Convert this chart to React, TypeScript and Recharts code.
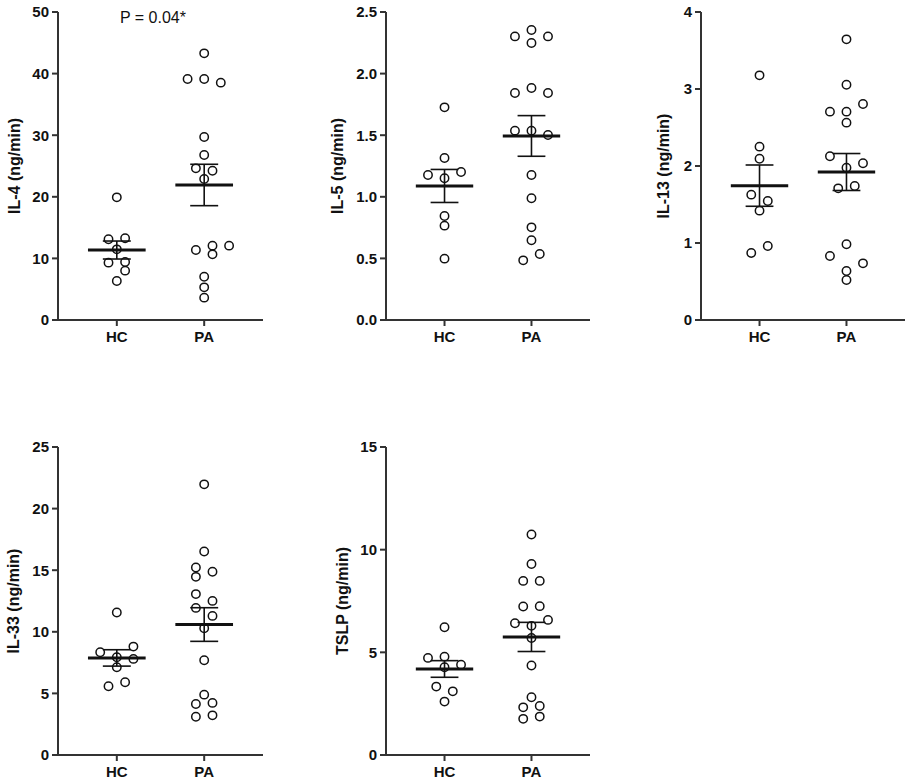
import React from 'react';
import { ScatterChart, Scatter, XAxis, YAxis, ReferenceLine } from 'recharts';

const FONT = "'Liberation Sans', Arial, Helvetica, sans-serif";
const INK = '#111';
const AXIS = '#333';

const groups = ['HC', 'PA'];

// IL-4
const il4HC = [19.91, 13.1, 13.26, 11.47, 9.31, 9.42, 8.01, 6.33];
const il4HCCol = [0, -1, 1, 0, -1, 1, 1, 0];
const il4PA = [43.29, 39.12, 39.12, 38.53, 29.71, 26.79, 24.62, 24.24, 22.89, 11.36, 12.07, 12.07, 10.66, 7.03, 5.3, 3.63];
const il4PACol = [0, -2, 0, 2, 0, 0, -1, 1, 0, -1, 1, 3, 1, 0, 0, 0];
const il4Mean = [11.36, 21.92];
const il4Sem = [1.46, 3.36];
const il4Ticks = [0, 10, 20, 30, 40, 50];

// IL-5
const il5HC = [1.726, 1.315, 1.177, 1.201, 1.15, 0.844, 0.766, 0.498];
const il5HCCol = [0, 0, -2, 2, 0, 0, 0, 0];
const il5PA = [2.354, 2.302, 2.302, 2.248, 1.883, 1.843, 1.843, 1.537, 1.537, 1.502, 1.177, 0.988, 0.752, 0.647, 0.536, 0.484];
const il5PACol = [0, -2, 2, 0, 0, -2, 2, -2, 0, 2, 0, 0, 0, 0, 1, -1];
const il5Mean = [1.088, 1.494];
const il5Sem = [0.134, 0.165];
const il5Ticks = [0, 0.5, 1, 1.5, 2, 2.5];

// IL-13
const il13HC = [3.177, 2.251, 2.095, 1.628, 1.545, 1.42, 0.961, 0.87];
const il13HCCol = [0, 0, 0, -1, 1, 0, 1, -1];
const il13PA = [3.645, 3.056, 2.805, 2.706, 2.706, 2.563, 2.126, 2.035, 1.978, 1.74, 1.71, 0.983, 0.831, 0.736, 0.636, 0.519];
const il13PACol = [0, 0, 2, -2, 0, 0, -2, 2, 0, 1, -1, 0, -2, 2, 0, 0];
const il13Mean = [1.745, 1.922];
const il13Sem = [0.268, 0.24];
const il13Ticks = [0, 1, 2, 3, 4];

// IL-33
const il33HC = [11.57, 8.8, 8.34, 7.94, 7.8, 7.12, 5.9, 5.58];
const il33HCCol = [0, 2, -2, 0, 2, 0, 1, -1];
const il33PA = [21.97, 16.52, 15.22, 14.87, 14.46, 13.06, 12.51, 11.94, 11.29, 10.29, 7.69, 4.9, 4.14, 4.23, 3.22, 3.11];
const il33PACol = [0, 0, -1, 1, -1, -1, 1, -1, 1, 0, 0, 0, -1, 1, 1, -1];
const il33Mean = [7.88, 10.59];
const il33Sem = [0.665, 1.365];
const il33Ticks = [0, 5, 10, 15, 20, 25];

// TSLP
const tslpHC = [6.22, 4.73, 4.79, 4.4, 4.27, 3.33, 3.1, 2.6];
const tslpHCCol = [0, -2, 0, 2, 0, -1, 1, 0];
const tslpPA = [10.74, 9.3, 8.48, 8.48, 7.23, 7.25, 6.42, 6.58, 6.29, 5.7, 4.36, 2.81, 2.32, 2.39, 1.76, 1.87];
const tslpPACol = [0, 0, -1, 1, -1, 1, -2, 2, 0, 0, 0, 0, -1, 1, -1, 1];
const tslpMean = [4.19, 5.75];
const tslpSem = [0.405, 0.71];
const tslpTicks = [0, 5, 10, 15];

const SLOT = 0.095;
const MEAN_HALF = 0.33;
const CAP_HALF = 0.16;
const X_DOMAIN: [number, number] = [0.327, 2.673];

const Dot = (props: any) => {
  if (props.cx == null || props.cy == null) return null;
  return <circle cx={props.cx} cy={props.cy} r={4.2} fill="none" stroke={INK} strokeWidth={1.5} />;
};

const makeYLabel = (text: string, dist: number) => (props: any) => {
  const vb = props.viewBox || { x: 0, y: 0, width: 0, height: 0 };
  const cx = vb.x + vb.width - dist;
  const cy = vb.y + vb.height / 2;
  return (
    <text
      x={cx}
      y={cy}
      transform={`rotate(-90, ${cx}, ${cy})`}
      textAnchor="middle"
      dominantBaseline="central"
      fontSize={16}
      fontWeight="bold"
      fontFamily={FONT}
      fill={INK}
    >
      {text}
    </text>
  );
};

type PanelProps = {
  left: number;
  top: number;
  plotW: number;
  hc: number[];
  hcCol: number[];
  pa: number[];
  paCol: number[];
  mean: number[];
  sem: number[];
  ticks: number[];
  decimals: number;
  label: string;
  labelDist: number;
  note?: string;
};

const Panel = (p: PanelProps) => {
  const AXW = 58;
  const RIGHT = 5;
  const width = AXW + p.plotW + RIGHT;
  const height = 348;
  const hcData = p.hc.map((v, i) => ({ x: 1 + p.hcCol[i] * SLOT, y: v }));
  const paData = p.pa.map((v, i) => ({ x: 2 + p.paCol[i] * SLOT, y: v }));
  const yMax = p.ticks[p.ticks.length - 1];
  const lines: React.ReactNode[] = [];
  [1, 2].forEach((g, gi) => {
    const m = p.mean[gi];
    const s = p.sem[gi];
    lines.push(
      <ReferenceLine key={`v${g}`} segment={[{ x: g, y: m - s }, { x: g, y: m + s }]} stroke={INK} strokeWidth={1.6} />,
      <ReferenceLine key={`u${g}`} segment={[{ x: g - CAP_HALF, y: m + s }, { x: g + CAP_HALF, y: m + s }]} stroke={INK} strokeWidth={1.6} />,
      <ReferenceLine key={`l${g}`} segment={[{ x: g - CAP_HALF, y: m - s }, { x: g + CAP_HALF, y: m - s }]} stroke={INK} strokeWidth={1.6} />,
      <ReferenceLine key={`m${g}`} segment={[{ x: g - MEAN_HALF, y: m }, { x: g + MEAN_HALF, y: m }]} stroke={INK} strokeWidth={3} />
    );
  });
  return (
    <div style={{ position: 'absolute', left: p.left, top: p.top, width, height }}>
      <ScatterChart width={width} height={height} margin={{ top: 12, right: RIGHT, bottom: 0, left: 0 }}>
        <XAxis
          type="number"
          dataKey="x"
          domain={X_DOMAIN}
          ticks={[1, 2]}
          allowDataOverflow
          height={28}
          tickFormatter={(v: number) => groups[Math.round(v) - 1]}
          axisLine={{ stroke: AXIS, strokeWidth: 2 }}
          tickLine={{ stroke: AXIS, strokeWidth: 2 }}
          tickSize={6}
          tickMargin={5}
          tick={{ fontSize: 15, fontWeight: 'bold', fill: INK, fontFamily: FONT }}
        />
        <YAxis
          type="number"
          dataKey="y"
          domain={[0, yMax]}
          ticks={p.ticks}
          allowDataOverflow
          width={AXW}
          tickFormatter={(v: number) => v.toFixed(p.decimals)}
          axisLine={{ stroke: AXIS, strokeWidth: 2 }}
          tickLine={{ stroke: AXIS, strokeWidth: 2 }}
          tickSize={6}
          tickMargin={3}
          tick={{ fontSize: 15, fontWeight: 'bold', fill: INK, fontFamily: FONT }}
          label={{ content: makeYLabel(p.label, p.labelDist) }}
        />
        {lines}
        <Scatter data={hcData} shape={<Dot />} isAnimationActive={false} />
        <Scatter data={paData} shape={<Dot />} isAnimationActive={false} />
        {p.note ? (
          <text x={153} y={23} textAnchor="middle" fontSize={16} fontFamily={FONT} fill={INK}>
            {p.note}
          </text>
        ) : null}
      </ScatterChart>
    </div>
  );
}

export default function App() {
  return (
    <div style={{ position: 'absolute', left: 0, top: 0, width: 911, height: 783, overflow: 'hidden', background: '#fff' }}>
      <Panel left={0} top={0} plotW={205} hc={il4HC} hcCol={il4HCCol} pa={il4PA} paCol={il4PACol} mean={il4Mean} sem={il4Sem} ticks={il4Ticks} decimals={0} label="IL-4 (ng/min)" labelDist={44} note="P = 0.04*" />
      <Panel left={328} top={0} plotW={204} hc={il5HC} hcCol={il5HCCol} pa={il5PA} paCol={il5PACol} mean={il5Mean} sem={il5Sem} ticks={il5Ticks} decimals={1} label="IL-5 (ng/min)" labelDist={48.5} />
      <Panel left={643} top={0} plotW={204} hc={il13HC} hcCol={il13HCCol} pa={il13PA} paCol={il13PACol} mean={il13Mean} sem={il13Sem} ticks={il13Ticks} decimals={0} label="IL-13 (ng/min)" labelDist={38} />
      <Panel left={0} top={435} plotW={205} hc={il33HC} hcCol={il33HCCol} pa={il33PA} paCol={il33PACol} mean={il33Mean} sem={il33Sem} ticks={il33Ticks} decimals={0} label="IL-33 (ng/min)" labelDist={45} />
      <Panel left={328} top={435} plotW={204} hc={tslpHC} hcCol={tslpHCCol} pa={tslpPA} paCol={tslpPACol} mean={tslpMean} sem={tslpSem} ticks={tslpTicks} decimals={0} label="TSLP (ng/min)" labelDist={44} />
    </div>
  );
}
